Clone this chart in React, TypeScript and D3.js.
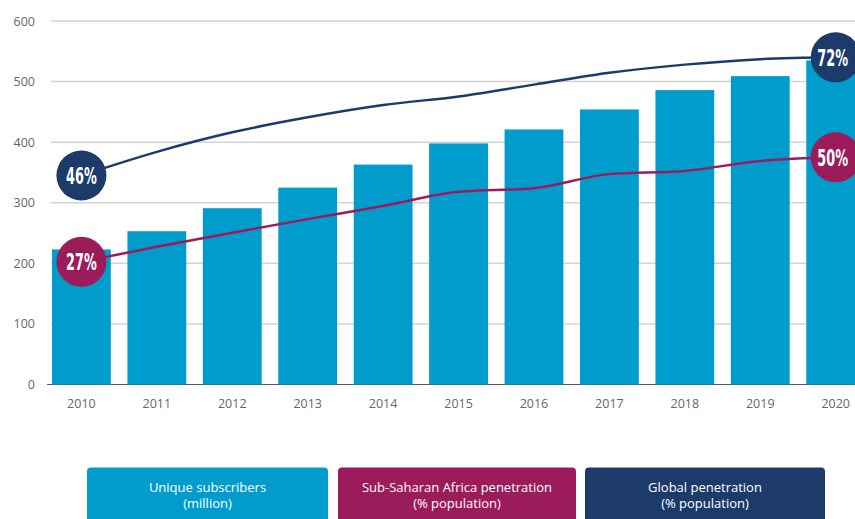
import React from "react";
import * as d3 from "d3";

const years = ["2010","2011","2012","2013","2014","2015","2016","2017","2018","2019","2020"];
const subscribers = [223, 253, 291, 325, 363, 398, 421, 454, 486, 509, 535];
const ssaPenetration = [27, 30.3, 33.4, 36.4, 39.3, 42.4, 43.2, 46.3, 47.0, 49.2, 50];
const globalPenetration = [46, 51.2, 55.5, 58.8, 61.5, 63.4, 66.0, 68.6, 70.4, 71.6, 72];
const yTicks = [0, 100, 200, 300, 400, 500, 600];
const legendItems = [
  { lines: ["Unique subscribers", "(million)"], color: "#009dcc" },
  { lines: ["Sub-Saharan Africa penetration", "(% population)"], color: "#9c1c5b" },
  { lines: ["Global penetration", "(% population)"], color: "#1c3b6b" },
];

const W = 855;
const H = 519;
const BAR = "#009dcc";
const MAG = "#9c1c5b";
const NAVY = "#1c3b6b";
const TXT = "#6e6461";
const FONT = "'Open Sans', 'DejaVu Sans', sans-serif";

export default function App() {
  const x = d3.scaleBand<string>().domain(years).range([35.4, 881.7]).padding(0.22);
  const y = d3.scaleLinear().domain([0, 600]).range([384.5, 21]);
  const yp = d3.scaleLinear().domain([0, 80]).range([384.5, 21]);
  const cx = (i: number) => (x(years[i]) as number) + x.bandwidth() / 2;

  const line = d3
    .line<number>()
    .x((_, i) => cx(i))
    .y((d) => yp(d))
    .curve(d3.curveMonotoneX);

  const labels = [
    { i: 0, v: globalPenetration[0], c: NAVY, t: "46%", dx: 0 },
    { i: 0, v: ssaPenetration[0], c: MAG, t: "27%", dx: 0 },
    { i: 10, v: globalPenetration[10], c: NAVY, t: "72%", dx: -3 },
    { i: 10, v: ssaPenetration[10], c: MAG, t: "50%", dx: -3 },
  ];

  const legendX = [87, 338, 585];
  const legendW = [241, 238, 240];

  return (
    <svg
      width={W}
      height={H}
      style={{ position: "absolute", left: 0, top: 0, display: "block" }}
      fontFamily={FONT}
    >
      <rect width={W} height={H} fill="#fff" />
      {yTicks.map((t) => (
        <g key={t}>
          {t > 0 && (
            <line x1={51} x2={W} y1={y(t)} y2={y(t)} stroke="#d4d4d4" strokeWidth={1.5} />
          )}
          <text x={35} y={y(t) + 4.5} textAnchor="end" fontSize={12.5} fill={TXT}>
            {t}
          </text>
        </g>
      ))}
      <line x1={47} x2={W} y1={y(0)} y2={y(0)} stroke="#555" strokeWidth={1} />
      {years.map((yr, i) => (
        <rect
          key={yr}
          x={x(yr)}
          y={y(subscribers[i])}
          width={x.bandwidth()}
          height={y(0) - y(subscribers[i])}
          fill={BAR}
        />
      ))}
      {years.map((yr) => (
        <text
          key={yr}
          x={(x(yr) as number) + x.bandwidth() / 2}
          y={408}
          textAnchor="middle"
          fontSize={12.5}
          fill={TXT}
        >
          {yr}
        </text>
      ))}
      <path d={line(globalPenetration) || ""} fill="none" stroke={NAVY} strokeWidth={2.5} />
      <path d={line(ssaPenetration) || ""} fill="none" stroke={MAG} strokeWidth={2.5} />
      {labels.map((l, k) => (
        <g key={k}>
          <circle cx={cx(l.i)} cy={yp(l.v)} r={25} fill={l.c} />
          <text
            transform={`translate(${cx(l.i) + l.dx},${yp(l.v) + 8.5}) scale(0.62,1)`}
            textAnchor="middle"
            fontSize={23}
            fontWeight={700}
            fill="#fff"
            fontFamily="'DejaVu Sans Condensed', 'Roboto', sans-serif"
          >
            {l.t}
          </text>
        </g>
      ))}
      {legendItems.map((it, k) => (
        <g key={k}>
          <rect x={legendX[k]} y={467.5} width={legendW[k]} height={70} rx={4} fill={it.color} />
          {it.lines.map((ln, j) => (
            <text
              key={j}
              x={legendX[k] + legendW[k] / 2}
              y={491.5 + j * 16.5}
              textAnchor="middle"
              fontSize={13}
              fill="#fff"
            >
              {ln}
            </text>
          ))}
        </g>
      ))}
    </svg>
  );
}
